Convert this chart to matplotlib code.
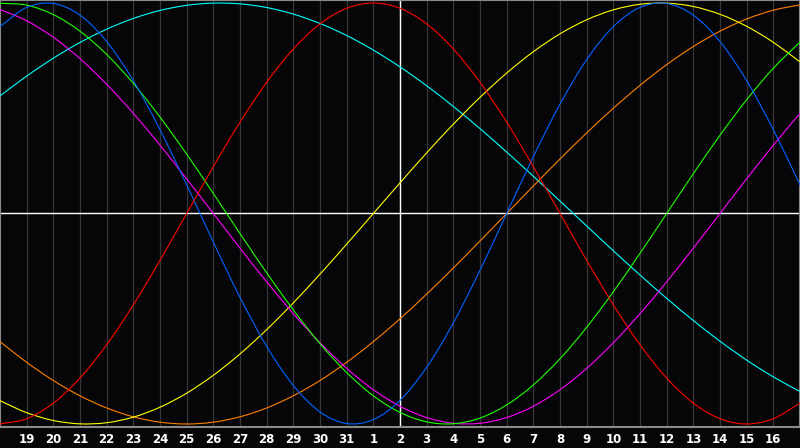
import matplotlib
matplotlib.use("Agg")
import matplotlib.pyplot as plt
from matplotlib.path import Path
from matplotlib.patches import PathPatch
import numpy as np

# day axis: 30 days shown, "today" (2nd) in the middle
days = np.arange(31)
day_labels = [str(d) for d in list(range(19, 32)) + list(range(1, 17))]
today = 15

# cycle values read per day (-1 .. 1)
red = [-1, -0.9749, -0.9010, -0.7818, -0.6235, -0.4339, -0.2225, 0, 0.2225, 0.4339,
       0.6235, 0.7818, 0.9010, 0.9749, 1, 0.9749, 0.9010, 0.7818, 0.6235, 0.4339,
       0.2225, 0, -0.2225, -0.4339, -0.6235, -0.7818, -0.9010, -0.9749, -1, -0.9749,
       -0.9010]
blue = [0.8879, 0.9791, 0.9977, 0.9423, 0.8170, 0.6311, 0.3984, 0.1362, -0.1362, -0.3984,
        -0.6311, -0.8170, -0.9423, -0.9977, -0.9791, -0.8879, -0.7308, -0.5196, -0.2698, 0,
        0.2698, 0.5196, 0.7308, 0.8879, 0.9791, 0.9977, 0.9423, 0.8170, 0.6311, 0.3984,
        0.1362]
orange = [-0.6088, -0.7071, -0.7934, -0.8660, -0.9239, -0.9659, -0.9914, -1, -0.9914, -0.9659,
          -0.9239, -0.8660, -0.7934, -0.7071, -0.6088, -0.5, -0.3827, -0.2588, -0.1305, 0,
          0.1305, 0.2588, 0.3827, 0.5, 0.6088, 0.7071, 0.7934, 0.8660, 0.9239, 0.9659,
          0.9914]
yellow = [-0.8893, -0.9464, -0.9834, -0.9993, -0.9940, -0.9674, -0.9203, -0.8536, -0.7686, -0.6672,
          -0.5517, -0.4244, -0.2881, -0.1456, 0, 0.1456, 0.2881, 0.4244, 0.5517, 0.6672,
          0.7686, 0.8536, 0.9203, 0.9674, 0.9940, 0.9993, 0.9834, 0.9464, 0.8893, 0.8133,
          0.7200]
magenta = [0.9694, 0.9158, 0.8372, 0.7357, 0.6142, 0.4759, 0.3247, 0.1646, 0, -0.1646,
           -0.3247, -0.4759, -0.6142, -0.7357, -0.8372, -0.9158, -0.9694, -0.9966, -0.9966, -0.9694,
           -0.9158, -0.8372, -0.7357, -0.6142, -0.4759, -0.3247, -0.1646, 0, 0.1646, 0.3247,
           0.4759]
green = [0.9989, 0.9898, 0.9450, 0.8660, 0.7557, 0.6182, 0.4582, 0.2817, 0.0951, -0.0951,
         -0.2817, -0.4582, -0.6182, -0.7557, -0.8660, -0.9450, -0.9898, -0.9989, -0.9718, -0.9096,
         -0.8146, -0.6901, -0.5406, -0.3717, -0.1893, 0, 0.1893, 0.3717, 0.5406, 0.6901,
         0.8146]
cyan = [0.5586, 0.6528, 0.7378, 0.8125, 0.8757, 0.9267, 0.9646, 0.9890, 0.9996, 0.9960,
        0.9786, 0.9473, 0.9028, 0.8456, 0.7763, 0.6966, 0.6068, 0.5085, 0.4031, 0.2920,
        0.1769, 0.0592, -0.0592, -0.1769, -0.2920, -0.4031, -0.5085, -0.6068, -0.6966, -0.7763,
        -0.8456]

series = [
    (cyan, '#00ffff'),
    (orange, '#ff8000'),
    (yellow, '#ffff00'),
    (magenta, '#ff00ff'),
    (green, '#20ff00'),
    (blue, '#0064ff'),
    (red, '#ff0000'),
]


def smooth_path(x, y):
    # cubic bezier through the points (catmull-rom style tangents)
    p = np.column_stack([x, y]).astype(float)
    ext = np.vstack([2 * p[0] - p[1], p, 2 * p[-1] - p[-2]])
    verts = [p[0]]
    codes = [Path.MOVETO]
    for i in range(len(p) - 1):
        p0, p1, p2, p3 = ext[i], ext[i + 1], ext[i + 2], ext[i + 3]
        verts += [p1 + (p2 - p0) / 6, p2 - (p3 - p1) / 6, p2]
        codes += [Path.CURVE4] * 3
    return Path(verts, codes)


bg = '#060609'
fig = plt.figure(figsize=(8, 4.48), dpi=100, facecolor=bg)
ax = fig.add_axes([0, 21 / 448, 1, 427 / 448], facecolor=bg)

# vertical day grid
for d in days[1:-1]:
    ax.axvline(d, color='#363636', lw=0.9, zorder=1)

for vals, col in series:
    ax.add_patch(PathPatch(smooth_path(days, vals), fill=False, edgecolor=col,
                           lw=0.8, zorder=3))

ax.axhline(0, color='white', lw=1.0, zorder=2)
ax.axvline(today, color='white', lw=1.0, zorder=2)

ax.set_xlim(0, 30)
ax.set_ylim(-1.0143, 1.0143)
ax.set_yticks([])
ax.set_xticks(days[1:-1])
ax.set_xticklabels(day_labels)
ax.tick_params(axis='x', length=0, pad=4, colors='white', labelsize=8.5)
for t in ax.get_xticklabels():
    t.set_fontweight('bold')
for s in ax.spines.values():
    s.set_color('#8a8a8a')
    s.set_linewidth(1.5)

fig.savefig('out.png', dpi=100, facecolor=bg)
